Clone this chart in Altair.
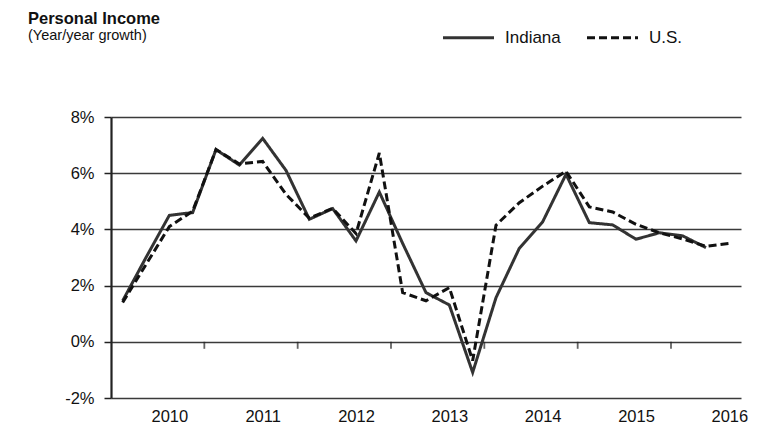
import altair as alt
import pandas as pd

years = [2010, 2011, 2012, 2013, 2014, 2015, 2016]
series_names = ["Indiana", "U.S."]
indiana = [1.46, 3.0, 4.5, 4.6, 6.84, 6.29, 7.24, 6.1, 4.36, 4.74, 3.59, 5.33, 3.5,
           1.75, 1.31, -1.09, 1.57, 3.33, 4.27, 5.96, 4.24, 4.16, 3.65, 3.88, 3.77, 3.35]
us = [1.40, 2.75, 4.1, 4.65, 6.84, 6.33, 6.42, 5.25, 4.4, 4.75, 3.85, 6.72, 1.75,
      1.46, 1.93, -0.67, 4.15, 4.95, 5.54, 6.07, 4.8, 4.62, 4.18, 3.88, 3.66, 3.4, 3.5]
y_ticks = [-2, 0, 2, 4, 6, 8]

rows = []
for name, vals in zip(series_names, [indiana, us]):
    for i, v in enumerate(vals):
        rows.append({"series": name, "pos": i + 0.5, "value": v})
df = pd.DataFrame(rows)

n_quarters = 4 * (len(years) - 1) + 3
label_pos = [4 * k + 2.5 for k in range(len(years))]
tick_pos = pd.DataFrame({"pos": [4 * k for k in range(1, len(years))]})

FONT = "Liberation Sans"

xscale = alt.Scale(domain=[0, n_quarters], nice=False, zero=False)
yscale = alt.Scale(domain=[-2, 8], nice=False)

legend = alt.Legend(
    title=None, orient="none", direction="horizontal",
    legendX=330, legendY=-107, padding=0,
    symbolType="stroke", symbolSize=2600, symbolStrokeWidth=3.2,
    labelFontSize=17, labelFont=FONT, labelColor="#111",
    labelOffset=9, columnPadding=19,
)

lines = alt.Chart(df).mark_line(strokeWidth=3, strokeJoin="miter").encode(
    x=alt.X("pos:Q", scale=xscale, title=None,
            axis=alt.Axis(values=label_pos, ticks=False, domain=False, grid=False,
                          labelExpr="'' + (2010 + floor(datum.value / 4))",
                          labelFontSize=16.5, labelFont=FONT, labelColor="#111",
                          labelPadding=10)),
    y=alt.Y("value:Q", scale=yscale, title=None,
            axis=alt.Axis(values=y_ticks, labelExpr="datum.value + '%'", grid=True,
                          labelFontSize=16.5, labelFont=FONT, labelColor="#111",
                          labelPadding=10, tickSize=7, tickColor="#222", tickWidth=1.5,
                          domainColor="#222", domainWidth=2.2,
                          gridColor="#3a3a3a", gridWidth=1.3)),
    color=alt.Color("series:N", scale=alt.Scale(domain=series_names, range=["#333333", "#111111"]),
                    legend=legend),
    strokeDash=alt.StrokeDash("series:N", scale=alt.Scale(domain=series_names, range=[[1, 0], [8, 4]]),
                              legend=legend),
)

ticks = alt.Chart(tick_pos).mark_tick(orient="vertical", size=7, thickness=1.8, yOffset=3.5,
                                      color="#222").encode(
    x=alt.X("pos:Q", scale=xscale),
    y=alt.datum(0),
)

title = alt.Chart().mark_text(text="Personal Income", align="left", baseline="alphabetic",
                              font=FONT, fontSize=16.5, fontWeight="bold", color="#111").encode(
    x=alt.value(-83), y=alt.value(-93.5))
subtitle = alt.Chart().mark_text(text="(Year/year growth)", align="left", baseline="alphabetic",
                                 font=FONT, fontSize=14.5, color="#111").encode(
    x=alt.value(-83), y=alt.value(-77))

chart = alt.layer(lines, ticks, title, subtitle).properties(
    width=630, height=281,
    autosize="none",
    padding={"left": 103, "top": 109, "right": 20, "bottom": 26},
).configure_view(strokeOpacity=0)

chart.save("out.html", embed_options={"renderer": "svg", "actions": False})
